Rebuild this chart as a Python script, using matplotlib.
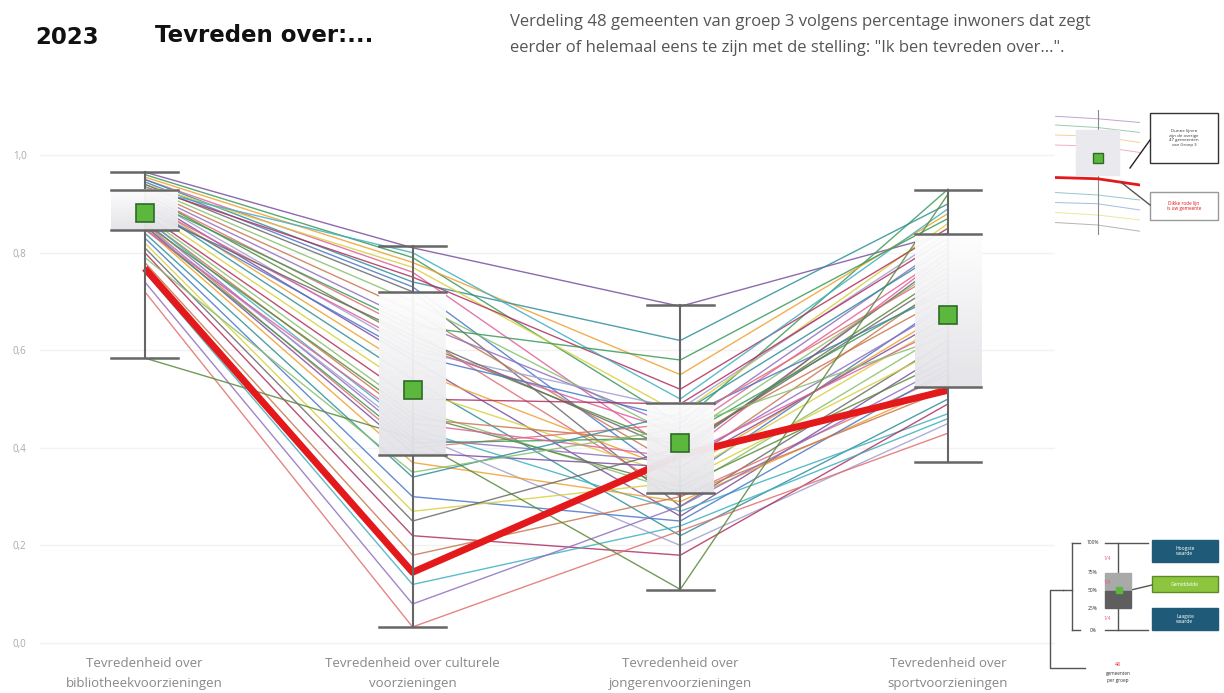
import numpy as np
import matplotlib
matplotlib.use('Agg')
import matplotlib.pyplot as plt
from matplotlib.patches import Rectangle

# categories (x axis)
categories = [
    'Tevredenheid over\nbibliotheekvoorzieningen',
    'Tevredenheid over culturele\nvoorzieningen',
    'Tevredenheid over\njongerenvoorzieningen',
    'Tevredenheid over\nsportvoorzieningen',
]

# summary per category
stat_max = [0.965, 0.813, 0.693, 0.928]
stat_q3 = [0.928, 0.719, 0.492, 0.838]
stat_mid = [0.881, 0.518, 0.410, 0.672]
stat_q1 = [0.846, 0.385, 0.307, 0.525]
stat_min = [0.584, 0.033, 0.109, 0.371]

# the highlighted municipality (thick red line)
highlight = [0.768, 0.145, 0.385, 0.518]

# the other 47 municipalities (thin lines), estimated
others = [
    [0.965, 0.81, 0.69, 0.84],
    [0.960, 0.79, 0.45, 0.93],
    [0.955, 0.78, 0.55, 0.88],
    [0.950, 0.76, 0.38, 0.80],
    [0.950, 0.74, 0.62, 0.90],
    [0.945, 0.73, 0.33, 0.70],
    [0.940, 0.77, 0.47, 0.86],
    [0.940, 0.72, 0.28, 0.62],
    [0.935, 0.75, 0.52, 0.85],
    [0.935, 0.70, 0.42, 0.78],
    [0.930, 0.68, 0.36, 0.74],
    [0.930, 0.80, 0.50, 0.89],
    [0.925, 0.66, 0.44, 0.82],
    [0.920, 0.64, 0.30, 0.55],
    [0.920, 0.62, 0.40, 0.76],
    [0.915, 0.60, 0.48, 0.84],
    [0.910, 0.58, 0.26, 0.60],
    [0.910, 0.65, 0.58, 0.87],
    [0.905, 0.56, 0.35, 0.68],
    [0.900, 0.61, 0.43, 0.80],
    [0.900, 0.54, 0.22, 0.50],
    [0.895, 0.59, 0.46, 0.72],
    [0.890, 0.52, 0.34, 0.66],
    [0.885, 0.63, 0.39, 0.79],
    [0.880, 0.50, 0.49, 0.83],
    [0.875, 0.48, 0.31, 0.64],
    [0.870, 0.46, 0.41, 0.71],
    [0.870, 0.44, 0.27, 0.47],
    [0.865, 0.42, 0.37, 0.69],
    [0.860, 0.40, 0.45, 0.77],
    [0.860, 0.47, 0.32, 0.58],
    [0.855, 0.43, 0.20, 0.45],
    [0.855, 0.39, 0.36, 0.67],
    [0.850, 0.41, 0.42, 0.73],
    [0.850, 0.37, 0.29, 0.53],
    [0.847, 0.45, 0.38, 0.65],
    [0.840, 0.34, 0.47, 0.81],
    [0.830, 0.30, 0.25, 0.56],
    [0.820, 0.27, 0.33, 0.61],
    [0.810, 0.25, 0.40, 0.75],
    [0.800, 0.22, 0.18, 0.49],
    [0.790, 0.35, 0.44, 0.63],
    [0.780, 0.18, 0.30, 0.52],
    [0.760, 0.12, 0.24, 0.46],
    [0.740, 0.08, 0.28, 0.57],
    [0.720, 0.033, 0.23, 0.43],
    [0.584, 0.42, 0.11, 0.92],
]

y_ticks = [0.0, 0.2, 0.4, 0.6, 0.8, 1.0]
y_tick_labels = ['0,0', '0,2', '0,4', '0,6', '0,8', '1,0']

line_colors = ['#7b4fa0', '#3a9a5b', '#f0a030', '#e0609a', '#2f8f9a', '#4a78c8',
               '#d8d040', '#6a6a6a', '#b03060', '#88c070', '#c87850', '#40b0c0',
               '#9070c0', '#e07070', '#5a8a3a', '#a0a0d0']

plt.rcParams['font.family'] = ['Open Sans', 'DejaVu Sans']

fig = plt.figure(figsize=(12.24, 6.93), dpi=100)
ax = fig.add_axes([0.033, 0.058, 0.829, 0.7746])

x = np.arange(len(categories))

for i, row in enumerate(others):
    ax.plot(x, row, color=line_colors[i % len(line_colors)], lw=1.0, alpha=0.85, zorder=2)

ax.plot(x, highlight, color='#e3191c', lw=5, solid_capstyle='butt', zorder=2.5)

half = 0.125
grad = np.zeros((64, 1, 4))
grad[:, 0, 0] = np.linspace(0.89, 0.995, 64)
grad[:, 0, 1] = np.linspace(0.89, 0.995, 64)
grad[:, 0, 2] = np.linspace(0.91, 0.995, 64)
grad[:, 0, 3] = 0.96

for i in range(len(categories)):
    ax.plot([x[i], x[i]], [stat_min[i], stat_max[i]], color='#666666', lw=1.5, zorder=2.8)
    ax.imshow(grad, extent=[x[i] - half, x[i] + half, stat_q1[i], stat_q3[i]],
              origin='lower', aspect='auto', zorder=3, interpolation='bilinear')
    for v in [stat_min[i], stat_q1[i], stat_q3[i], stat_max[i]]:
        ax.plot([x[i] - half, x[i] + half], [v, v], color='#666666', lw=1.8, zorder=4)
    ax.plot(x[i], stat_mid[i], marker='s', markersize=13, color='#5cb83c',
            markeredgecolor='#2e6a28', markeredgewidth=1.2, zorder=5)

ax.set_xlim(-0.39, 3.40)
ax.set_ylim(-0.02, 1.08)
ax.set_yticks(y_ticks)
ax.set_yticklabels(y_tick_labels, color='#aaaaaa', fontsize=7)
ax.set_xticks(x)
ax.set_xticklabels(categories, color='#888888', fontsize=9.5, linespacing=1.75)
ax.tick_params(axis='both', length=0)
ax.tick_params(axis='x', pad=3)
ax.tick_params(axis='y', pad=10)
ax.grid(axis='y', color='#f2f2f2', lw=1)
ax.set_axisbelow(True)
for s in ax.spines.values():
    s.set_visible(False)

# titles
fig.text(35 / 1224, 1 - 38 / 693, '2023', fontsize=16.5, fontweight='bold',
         family=['DejaVu Sans'], color='#111111', va='center')
fig.text(155 / 1224, 1 - 36 / 693, 'Tevreden over:...', fontsize=16.5, fontweight='bold',
         family=['DejaVu Sans'], color='#111111', va='center')
fig.text(510 / 1224, 1 - 35 / 693,
         'Verdeling 48 gemeenten van groep 3 volgens percentage inwoners dat zegt\n'
         'eerder of helemaal eens te zijn met de stelling: "Ik ben tevreden over...".',
         fontsize=12, color='#555555', va='center', linespacing=1.75)

# top-right illustration
mini_lines = [[0.95, 0.93, 0.90], [0.88, 0.86, 0.82], [0.80, 0.79, 0.74], [0.72, 0.71, 0.66],
              [0.34, 0.32, 0.28], [0.26, 0.25, 0.20], [0.18, 0.16, 0.12], [0.10, 0.08, 0.03]]
mini_red = [0.46, 0.45, 0.40]
mini_x = [0, 1, 2]
ins = fig.add_axes([1055 / 1224, 1 - 235 / 693, 85 / 1224, 125 / 693])
for i, row in enumerate(mini_lines):
    ins.plot(mini_x, row, color=line_colors[i], lw=0.7, alpha=0.5)
ins.plot([1, 1], [0.0, 1.0], color='#888888', lw=0.8)
ins.add_patch(Rectangle((0.5, 0.48), 1.0, 0.36, color='#eaeaee', zorder=3))
ins.plot(1, 0.62, marker='s', markersize=7, color='#5cb83c', markeredgecolor='#2e6a28', zorder=4)
ins.plot(mini_x, mini_red, color='#e3191c', lw=2, zorder=3.5)
ins.set_xlim(0, 2)
ins.set_ylim(0, 1)
ins.axis('off')

# bottom-right legend and callouts, in pixel coordinates
leg = fig.add_axes([0, 0, 1, 1], facecolor='none')
leg.set_xlim(0, 1224)
leg.set_ylim(693, 0)
leg.axis('off')

leg.plot([1130, 1150], [168, 140], color='#222222', lw=1)
leg.add_patch(Rectangle((1150, 113), 68, 50, fill=False, edgecolor='#333333', lw=1))
leg.text(1184, 138, 'Dunne lijnen\nzijn de overige\n47 gemeenten\nvan Groep 3',
         fontsize=3.2, ha='center', va='center', color='#333333')
leg.plot([1122, 1150], [183, 205], color='#555555', lw=1)
leg.add_patch(Rectangle((1150, 192), 68, 28, fill=False, edgecolor='#999999', lw=1))
leg.text(1184, 206, 'Dikke rode lijn\nis uw gemeente', fontsize=3.4, ha='center', va='center',
         color='#e3191c')

gc = '#555555'
leg.plot([1085, 1050, 1050, 1063], [668, 668, 590, 590], color=gc, lw=1)
leg.plot([1072, 1072], [543, 630], color=gc, lw=1)
leg.plot([1063, 1072], [590, 590], color=gc, lw=1)
leg.plot([1072, 1080], [543, 543], color=gc, lw=1)
leg.plot([1072, 1080], [630, 630], color=gc, lw=1)
for yy, lab in [(543, '100%'), (573, '75%'), (590, '50%'), (608, '25%'), (630, '0%')]:
    leg.text(1093, yy, lab, fontsize=3.5, ha='center', va='center', color='#333333')
leg.plot([1118, 1118], [543, 630], color=gc, lw=1)
leg.plot([1105, 1148], [543, 543], color=gc, lw=1)
leg.plot([1105, 1148], [630, 630], color=gc, lw=1)
leg.add_patch(Rectangle((1105, 573), 26, 18, color='#a9a9a9', zorder=3))
leg.add_patch(Rectangle((1105, 591), 26, 17, color='#5e5e5e', zorder=3))
leg.plot(1119, 590, marker='s', markersize=4, color='#5cb83c', zorder=4)
for yy in [559, 583, 618]:
    leg.text(1107, yy, '1/4', fontsize=3.5, ha='center', va='center', color='#e06070', zorder=5)
leg.plot([1131, 1152], [590, 585], color=gc, lw=1)
leg.text(1118, 665, '48', fontsize=3.8, ha='center', va='center', color='#e3191c')
leg.text(1118, 677, 'gemeenten\nper groep', fontsize=3.4, ha='center', va='center',
         color='#333333', linespacing=1.3)

leg.add_patch(Rectangle((1152, 540), 66, 22, color='#1f5b78'))
leg.text(1185, 551, 'Hoogste\nwaarde', fontsize=3.6, ha='center', va='center', color='white')
leg.add_patch(Rectangle((1152, 576), 66, 16, facecolor='#8cc63f', edgecolor='#5a8a2a', lw=1))
leg.text(1185, 584, 'Gemiddelde', fontsize=3.6, ha='center', va='center', color='white')
leg.add_patch(Rectangle((1152, 608), 66, 22, color='#1f5b78'))
leg.text(1185, 619, 'Laagste\nwaarde', fontsize=3.6, ha='center', va='center', color='white')

fig.savefig('out.png', dpi=100, facecolor='white')
